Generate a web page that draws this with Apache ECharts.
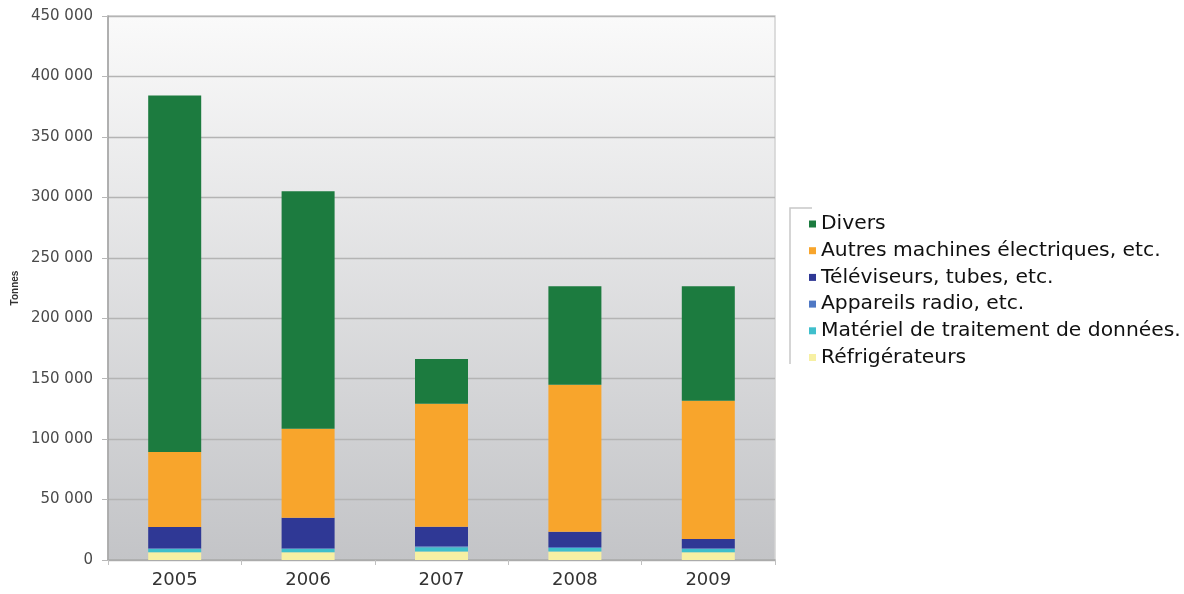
<!DOCTYPE html>
<html>
<head>
<meta charset="utf-8">
<script src="https://cdn.jsdelivr.net/npm/echarts@6/dist/echarts.min.js"></script>
<style>html,body{margin:0;padding:0;background:#fff;}#c{width:1184px;height:594px;}</style>
</head>
<body>
<div id="c"></div>
<script>
const years = ['2005', '2006', '2007', '2008', '2009'];
const refrigerateurs = [6500, 6500, 7000, 7000, 6500];
const materielDonnees = [2500, 2500, 3500, 3000, 2500];
const appareilsRadio = [800, 700, 800, 800, 700];
const televiseurs = [17500, 25300, 16300, 12600, 7700];
const autresMachines = [62000, 73500, 101600, 121500, 114300];
const divers = [295000, 196500, 37000, 81500, 94800];
const yTicks = [0, 50000, 100000, 150000, 200000, 250000, 300000, 350000, 400000, 450000];

const seriesDefs = [
  { name: 'Réfrigérateurs', data: refrigerateurs, color: '#f7f0a3' },
  { name: 'Matériel de traitement de données.', data: materielDonnees, color: '#3fbfcc' },
  { name: 'Appareils radio, etc.', data: appareilsRadio, color: '#4f78c4' },
  { name: 'Téléviseurs, tubes, etc.', data: televiseurs, color: '#2f3895' },
  { name: 'Autres machines électriques, etc.', data: autresMachines, color: '#f8a52c' },
  { name: 'Divers', data: divers, color: '#1c7b3f' }
];

const chart = echarts.init(document.getElementById('c'));
const fmt = v => String(v).replace(/\B(?=(\d{3})+(?!\d))/g, ' ');
chart.setOption({
  animation: false,
  grid: {
    left: 108, right: 409, top: 16, bottom: 34,
    show: true,
    borderColor: '#d2d2d2', borderWidth: 1.5,
    backgroundColor: new echarts.graphic.LinearGradient(0, 0, 0, 1, [
      { offset: 0, color: '#fafafa' },
      { offset: 1, color: '#c3c4c7' }
    ])
  },
  legend: {
    orient: 'vertical',
    left: 804, top: 209,
    itemWidth: 7, itemHeight: 7,
    itemGap: 6.7,
    icon: 'rect',
    data: seriesDefs.map(s => s.name).reverse(),
    textStyle: { fontFamily: 'DejaVu Sans', fontSize: 20.3, color: '#111', lineHeight: 20 }
  },
  graphic: [{
    type: 'polyline',
    shape: { points: [[812, 208], [790, 208], [790, 364]] },
    style: { stroke: '#c8c8c8', lineWidth: 1.5, fill: null }
  }],
  xAxis: {
    type: 'category',
    data: years,
    axisLine: { lineStyle: { color: '#a8a8a8', width: 1.5 } },
    axisTick: { show: true, length: 5, lineStyle: { color: '#c0c0c0' } },
    axisLabel: { fontFamily: 'DejaVu Sans', fontSize: 18, color: '#333', margin: 11 }
  },
  yAxis: {
    type: 'value',
    min: 0, max: 450000, interval: 50000,
    name: 'Tonnes',
    nameLocation: 'middle',
    nameRotate: 90,
    nameGap: 81,
    nameTextStyle: { fontFamily: 'Liberation Sans', fontSize: 10, fontWeight: 'bold', color: '#333' },
    axisLine: { show: true, lineStyle: { color: '#a0a0a0', width: 1.5 } },
    axisTick: { show: true, length: 6, lineStyle: { color: '#b8b8b8' } },
    splitLine: { lineStyle: { color: '#b4b4b4', width: 1.3 } },
    axisLabel: {
      fontFamily: 'DejaVu Sans', fontSize: 15, color: '#4a4a4a', margin: 15,
      formatter: v => yTicks.includes(v) ? fmt(v) : ''
    }
  },
  series: seriesDefs.map(s => ({
    name: s.name,
    type: 'bar',
    stack: 'total',
    barWidth: 53,
    data: s.data,
    itemStyle: { color: s.color }
  }))
});
</script>
</body>
</html>
